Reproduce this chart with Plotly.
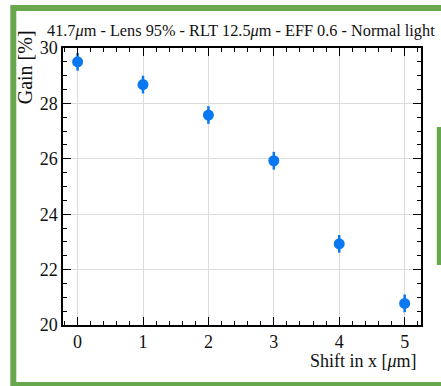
import plotly.graph_objects as go

shift_x = [0, 1, 2, 3, 4, 5]
gain = [29.5, 28.68, 27.58, 25.93, 22.93, 20.78]
gain_err = [0.32, 0.32, 0.32, 0.32, 0.32, 0.32]

title_text = "41.7<i>μ</i>m - Lens 95% - RLT 12.5<i>μ</i>m - EFF 0.6 - Normal light"
xlabel = "Shift in x [<i>μ</i>m]"
ylabel = "Gain [%]"

FONT = "Liberation Serif"
GREEN = "#68a84d"
BLUE = "#0a78f0"

fig = go.Figure()
fig.add_trace(go.Scatter(
    x=shift_x, y=gain, mode="markers",
    marker=dict(color=BLUE, size=11),
    error_y=dict(type="data", array=gain_err, color=BLUE, thickness=2.5, width=0),
    showlegend=False,
))

L, R, T, B = 62.7, 20.3, 48, 61
W, H = 441, 386
pw, ph = W - L - R, H - T - B

def px(x):
    return (x - L) / pw

def py(y):
    return (H - B - y) / ph

axis_common = dict(
    showline=True, linecolor="black", linewidth=1.5, mirror="allticks",
    ticks="inside", ticklen=8, tickwidth=1.3, tickcolor="black",
    showgrid=True, gridcolor="#dcdcdc", gridwidth=1,
    zeroline=False,
    tickfont=dict(family=FONT, size=18, color="#111"),
)

fig.update_xaxes(range=[-0.223, 5.25], tick0=0, dtick=1,
                 minor=dict(dtick=0.2, ticks="inside", ticklen=4, tickcolor="black", showgrid=False),
                 **axis_common)
fig.update_yaxes(range=[20, 30], tick0=20, dtick=2,
                 minor=dict(dtick=0.5, ticks="inside", ticklen=4, tickcolor="black", showgrid=False),
                 **axis_common)

fig.update_layout(
    width=W, height=H,
    margin=dict(l=L, r=R, t=T, b=B, pad=0),
    paper_bgcolor="white", plot_bgcolor="white",
    font=dict(family=FONT, color="#111"),
    annotations=[
        dict(text=title_text, xref="paper", yref="paper", x=px(241), y=py(42),
             xanchor="center", yanchor="bottom", showarrow=False,
             font=dict(family=FONT, size=16.3, color="#111")),
        dict(text=xlabel, xref="paper", yref="paper", x=px(419), y=py(361),
             xanchor="right", yanchor="middle", showarrow=False,
             font=dict(family=FONT, size=18, color="#111")),
        dict(text=ylabel, xref="paper", yref="paper", x=px(25), y=py(67),
             xanchor="center", yanchor="middle", textangle=-90, showarrow=False,
             font=dict(family=FONT, size=20, color="#111")),
    ],
    shapes=[
        dict(type="rect", xref="paper", yref="paper",
             x0=px(13), x1=px(446), y0=py(8), y1=py(385),
             line=dict(color=GREEN, width=6), fillcolor="rgba(0,0,0,0)", layer="above"),
        dict(type="rect", xref="paper", yref="paper",
             x0=px(436.5), x1=px(442), y0=py(127), y1=py(265),
             line=dict(width=0), fillcolor=GREEN, layer="above"),
    ],
)

fig.write_html("out.html")
